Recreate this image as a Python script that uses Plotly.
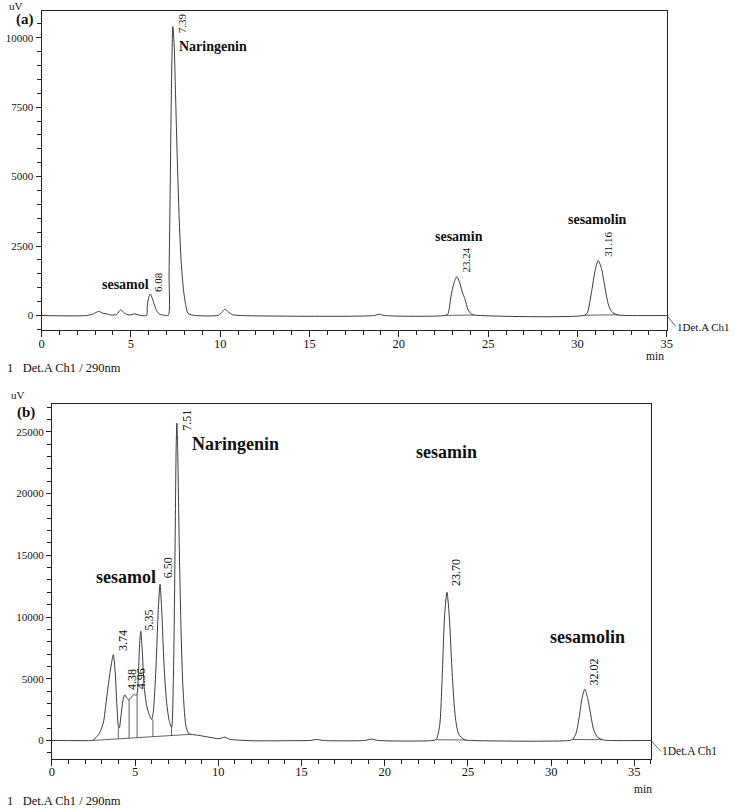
import plotly.graph_objects as go

# ---- chromatogram (a): retention time (min) / signal (uV)
time_a = [0, 2.5, 2.9, 3.2, 3.45, 3.66, 3.85, 4.2, 4.43, 4.65, 4.9, 5.22, 5.5, 5.88,
          5.92, 6.0, 6.09, 6.2, 6.32, 6.45, 6.6, 6.9, 7.1, 7.14, 7.2, 7.28, 7.35, 7.42,
          7.5, 7.6, 7.7, 7.82, 7.95, 8.08, 8.2, 8.5, 9.9, 10.1, 10.27, 10.45, 10.7, 11.2,
          18.6, 18.9, 19.2, 22.6, 22.75, 22.92, 23.08, 23.24, 23.4, 23.55, 23.7, 23.88,
          24.05, 24.2, 30.4, 30.55, 30.8, 30.98, 31.16, 31.34, 31.54, 31.72, 31.9, 32.2,
          32.6, 35]
signal_a = [0, 0, 60, 150, 80, 60, 20, 40, 210, 80, 20, 60, 10, 10,
            350, 650, 780, 620, 380, 170, 50, 10, 10, 1500, 4500, 8500, 10400, 9800,
            8000, 5600, 3600, 1900, 900, 350, 80, 10, 10, 120, 230, 130, 30, 0,
            0, 50, 0, 5, 60, 700, 1150, 1400, 1200, 850, 600, 200,
            60, 20, 10, 100, 900, 1600, 1985, 1700, 1000, 420, 150, 30,
            5, 0]

# ---- chromatogram (b)
time_b = [0, 2.4, 2.45, 2.7, 2.9, 3.1, 3.25, 3.4, 3.55, 3.69, 3.8, 3.9, 4.0, 4.05,
          4.15, 4.28, 4.38, 4.5, 4.6, 4.75, 4.9, 4.97, 5.05, 5.12, 5.2, 5.28, 5.34,
          5.42, 5.55, 5.7, 5.85, 6.0, 6.1, 6.25, 6.4, 6.5, 6.6, 6.75, 6.9, 7.05, 7.19,
          7.3, 7.4, 7.47, 7.51, 7.56, 7.65, 7.75, 7.85, 7.95, 8.05, 8.2, 8.35, 8.8,
          9.5, 10.0, 10.2, 10.4, 10.6, 11.0, 12, 13, 14, 15.5, 15.9, 16.3, 18.8, 19.2,
          19.6, 22.9, 23.1, 23.3, 23.45, 23.6, 23.74, 23.88, 24.05, 24.25, 24.45, 24.8,
          25.2, 31.1, 31.3, 31.5, 31.7, 31.85, 32.02, 32.18, 32.35, 32.55, 32.8, 33.15,
          33.5, 36]
signal_b = [0, 0, 20, 300, 700, 1500, 3000, 4600, 6000, 6950, 5600, 3000, 1100, 1000,
            2000, 3300, 3700, 3450, 3300, 3450, 3700, 3750, 3650, 3800, 5500, 8000, 8850,
            7500, 4300, 2800, 2100, 1700, 2400, 5800, 10800, 12650, 10500, 5800, 3000, 1600, 1050,
            5000, 15500, 24000, 25700, 23500, 16000, 9500, 5000, 2600, 1200, 600, 500, 420,
            250, 150, 200, 270, 130, 50, -20, -30, -20, 0, 80, 0, 0, 110,
            0, 0, 100, 1200, 5000, 10200, 12000, 10000, 5500, 1800, 500, 60,
            0, 0, 100, 600, 2000, 3400, 4150, 3500, 2300, 900, 250, 40,
            0, 0]

# integration baselines and drop lines
base_a = [([22.6, 24.2], [5, 20]), ([30.4, 32.3], [10, 30])]
base_b = [([2.45, 8.34], [0, 500]), ([23.1, 24.9], [60, 40]), ([31.3, 33.1], [80, 60])]
drop_t_b = [3.99, 4.64, 5.12, 6.07, 7.19]
drop_top_b = [1000, 3300, 3750, 1700, 1050]
drop_bot_b = [130, 186, 226, 307, 402]

# peak labels: (text, time, signal)
rt_a = [("7.39", 7.91, 10510), ("6.08", 6.52, 1206), ("23.24", 23.78, 1998), ("31.16", 31.67, 2556)]
names_a = [("Naringenin", 7.59, 9676, "left"), ("sesamol", 6.15, 1134, "right"),
           ("sesamin", 23.38, 2837, "center"), ("sesamolin", 31.1, 3474, "center")]
rt_b = [("7.51", 8.1, 25950), ("6.50", 6.99, 13968), ("5.35", 5.86, 9757), ("3.74", 4.28, 8057),
        ("4.38", 4.82, 4899), ("4.96", 5.37, 4980), ("23.70", 24.28, 13644), ("32.02", 32.55, 5547)]
names_b = [("Naringenin", 8.28, 24008, "left"), ("sesamol", 6.4, 13215, "right"),
           ("sesamin", 23.71, 23360, "center"), ("sesamolin", 32.17, 8380, "center")]

W, H = 738, 809
FONT = "Liberation Serif"
LINE = "#3a3a3a"

fig = go.Figure()

fig.add_trace(go.Scatter(x=time_a, y=signal_a, mode="lines", xaxis="x", yaxis="y",
                         line=dict(color=LINE, width=1, shape="spline", smoothing=0.7)))
fig.add_trace(go.Scatter(x=time_b, y=signal_b, mode="lines", xaxis="x2", yaxis="y2",
                         line=dict(color=LINE, width=1, shape="spline", smoothing=0.7)))

for xs, ys in base_a:
    fig.add_trace(go.Scatter(x=xs, y=ys, mode="lines", xaxis="x", yaxis="y",
                             line=dict(color=LINE, width=0.8)))
for xs, ys in base_b:
    fig.add_trace(go.Scatter(x=xs, y=ys, mode="lines", xaxis="x2", yaxis="y2",
                             line=dict(color=LINE, width=0.8)))

dx, dy = [], []
for t, top, bot in zip(drop_t_b, drop_top_b, drop_bot_b):
    dx += [t, t, None]
    dy += [bot, top, None]
fig.add_trace(go.Scatter(x=dx, y=dy, mode="lines", xaxis="x2", yaxis="y2",
                         line=dict(color=LINE, width=0.8)))

annotations = []
for txt, t, v in rt_a:
    annotations.append(dict(x=t, y=v, xref="x", yref="y", text=txt, textangle=-90,
                            showarrow=False, font=dict(size=11)))
for txt, t, v, anc in names_a:
    annotations.append(dict(x=t, y=v, xref="x", yref="y", text=f"<b>{txt}</b>",
                            xanchor=anc, showarrow=False, font=dict(size=14)))
for txt, t, v in rt_b:
    annotations.append(dict(x=t, y=v, xref="x2", yref="y2", text=txt, textangle=-90,
                            showarrow=False, font=dict(size=12)))
for txt, t, v, anc in names_b:
    annotations.append(dict(x=t, y=v, xref="x2", yref="y2", text=f"<b>{txt}</b>",
                            xanchor=anc, showarrow=False, font=dict(size=18)))

# channel labels at the end of the traces
annotations.append(dict(x=35, y=0, xref="x", yref="y", text="1Det.A Ch1", showarrow=True,
                        arrowhead=0, arrowwidth=0.8, arrowcolor=LINE, ax=9, ay=11,
                        xanchor="left", font=dict(size=11), borderpad=0))
annotations.append(dict(x=36, y=0, xref="x2", yref="y2", text="1Det.A Ch1", showarrow=True,
                        arrowhead=0, arrowwidth=0.8, arrowcolor=LINE, ax=10, ay=11,
                        xanchor="left", font=dict(size=11.5), borderpad=0))

# page texts (pixel positions -> paper coords)
def px(x, y, text, size=11, anchor="left", bold=False):
    if bold:
        text = f"<b>{text}</b>"
    return dict(x=x / W, y=1 - y / H, xref="paper", yref="paper", text=text,
                xanchor=anchor, yanchor="middle", showarrow=False, font=dict(size=size))

annotations += [
    px(4, 6, "uV", 11), px(11, 19, "(a)", 15, bold=True),
    px(660, 356, "min", 11.5, "center"), px(2, 368, "1   Det.A Ch1 / 290nm", 12.5),
    px(6, 395, "uV", 11), px(12, 412, "(b)", 15, bold=True),
    px(648, 789, "min", 11.5, "center"), px(2, 801, "1   Det.A Ch1 / 290nm", 12.5),
]

axis_common = dict(showline=True, linecolor="#222", linewidth=1, mirror=True,
                   showgrid=False, zeroline=False, ticks="outside", tickcolor="#222",
                   tickwidth=1, tickformat="d")

fig.update_layout(
    width=W, height=H,
    margin=dict(l=0, r=0, t=0, b=0),
    paper_bgcolor="white", plot_bgcolor="white",
    showlegend=False,
    font=dict(family=FONT, color="#111"),
    xaxis=dict(domain=[39 / W, 672 / W], anchor="y", range=[0, 35], dtick=5, ticklen=6,
               tickfont=dict(size=12.5), ticklabelstandoff=-4,
               minor=dict(dtick=1, ticklen=4, ticks="outside", tickcolor="#222"),
               **axis_common),
    yaxis=dict(domain=[1 - 330 / H, 1 - 11 / H], anchor="x", range=[-520, 10960],
               tickvals=[0, 2500, 5000, 7500, 10000], ticklen=5, tickfont=dict(size=11),
               minor=dict(dtick=500, tick0=0, ticklen=4, ticks="outside", tickcolor="#222"),
               **axis_common),
    xaxis2=dict(domain=[49.5 / W, 656 / W], anchor="y2", range=[0, 36], dtick=5, ticklen=6,
                tickfont=dict(size=12.5), ticklabelstandoff=-5,
                minor=dict(dtick=1, ticklen=4, ticks="outside", tickcolor="#222"),
                **axis_common),
    yaxis2=dict(domain=[1 - 759 / H, 1 - 404 / H], anchor="x2", range=[-1500, 27250],
                tickvals=[0, 5000, 10000, 15000, 20000, 25000], ticklen=5,
                tickfont=dict(size=11),
                minor=dict(dtick=1000, tick0=0, ticklen=4, ticks="outside", tickcolor="#222"),
                **axis_common),
    annotations=annotations,
)

# page has a default 8px body margin; drop it so the figure fills the window exactly
fig.write_html("out.html", config={"displayModeBar": False},
               post_script="document.body.style.margin='0';")
